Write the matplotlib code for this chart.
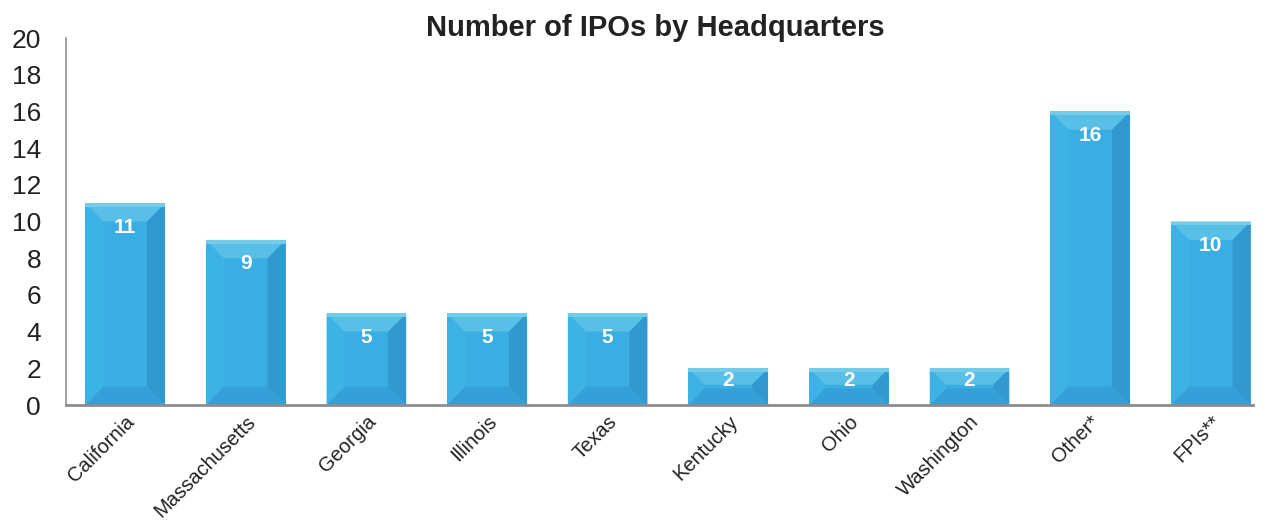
import numpy as np
import matplotlib.pyplot as plt
from matplotlib.patches import Polygon, Rectangle

plt.rcParams['font.family'] = ['Liberation Sans', 'DejaVu Sans']

states = ['California', 'Massachusetts', 'Georgia', 'Illinois', 'Texas',
          'Kentucky', 'Ohio', 'Washington', 'Other*', 'FPIs**']
ipo_counts = [11, 9, 5, 5, 5, 2, 2, 2, 16, 10]

bar_color = '#3AAEE3'
top_color = '#58BFE6'
band_color = '#72CBE8'
bottom_color = '#35A0D7'
right_color = '#3199D0'
left_color = '#3DB2E5'

fig = plt.figure(figsize=(12.7, 5.29), dpi=100)
ax = fig.add_axes([0.052, 0.2344, 0.9346, 0.6936])

x = np.arange(len(states))
width = 0.66
bars = ax.bar(x, ipo_counts, width=width, color=bar_color, zorder=2)

# fake bevel, roughly a flat-topped pyramid seen from the front
bx = 0.15    # bevel depth in x data units
by = 1.0     # bevel depth in y data units
for rect in bars:
    x0 = rect.get_x()
    x1 = x0 + rect.get_width()
    h = rect.get_height()
    d = min(by, h * 0.45)
    dx = bx * d / by
    ax.add_patch(Polygon([(x1, 0), (x1, h), (x1 - dx, h - d), (x1 - dx, d)],
                         closed=True, color=right_color, lw=0, zorder=3))
    ax.add_patch(Polygon([(x0, 0), (x0, h), (x0 + dx, h - d), (x0 + dx, d)],
                         closed=True, color=left_color, lw=0, zorder=3))
    ax.add_patch(Polygon([(x0, 0), (x1, 0), (x1 - dx, d), (x0 + dx, d)],
                         closed=True, color=bottom_color, lw=0, zorder=3))
    ax.add_patch(Polygon([(x0, h), (x1, h), (x1 - dx, h - d), (x0 + dx, h - d)],
                         closed=True, color=top_color, lw=0, zorder=3))
    ax.add_patch(Rectangle((x0, h - 0.2), x1 - x0, 0.2, color=band_color,
                           lw=0, zorder=3))

for xi, v in zip(x, ipo_counts):
    ax.text(xi, v - min(1.3, v * 0.33), str(v), ha='center', va='center',
            color='white', fontsize=15, fontweight='bold', zorder=4)

ax.set_xlim(-0.49, 9.35)
ax.set_ylim(0, 20)
ax.set_yticks(range(0, 21, 2))
ax.set_xticks(x)
ax.set_xticklabels(states, rotation=45, ha='right', rotation_mode='anchor',
                   fontsize=14.5, color='#222222')
ax.tick_params(axis='y', length=0, labelsize=19, labelcolor='#222222', pad=18)
ax.tick_params(axis='x', length=0, pad=5)

for s in ['top', 'right']:
    ax.spines[s].set_visible(False)
ax.spines['left'].set_color('#8C9096')
ax.spines['left'].set_linewidth(1.2)
ax.spines['bottom'].set_color('#8C8C8C')
ax.spines['bottom'].set_linewidth(2)
ax.spines['bottom'].set_zorder(5)

fig.text(0.516, 0.947, 'Number of IPOs by Headquarters', ha='center', va='center',
         fontsize=21, fontweight='bold', color='#222222')

fig.savefig('out.png', dpi=100)
